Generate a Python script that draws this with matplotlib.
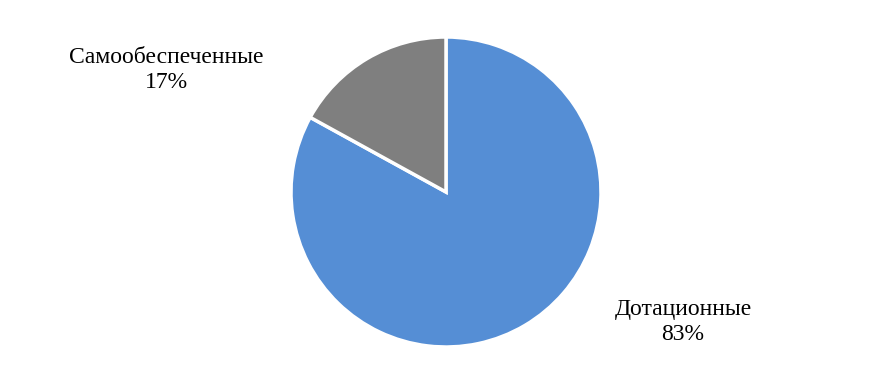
import matplotlib
matplotlib.use("Agg")
import matplotlib.pyplot as plt

categories = ["Дотационные", "Самообеспеченные"]
shares = [83, 17]
colors = ["#558ED5", "#7F7F7F"]

plt.rcParams['font.family'] = ['Liberation Serif', 'DejaVu Serif']

fig = plt.figure(figsize=(8.79, 3.83), dpi=100)
ax = fig.add_axes([0, 0, 1, 1])

ax.pie(shares, colors=colors, startangle=90, counterclock=False,
       center=(446, 191), radius=155, frame=True,
       wedgeprops=dict(edgecolor='white', linewidth=2.5))
ax.set_xlim(0, 879)
ax.set_ylim(0, 383)
ax.set_aspect('equal')
ax.axis('off')

label_pos = {"Дотационные": (683, 61), "Самообеспеченные": (166, 313)}
for cat, val in zip(categories, shares):
    x, y = label_pos[cat]
    ax.text(x, y, f"{cat}\n{val}%", ha='center', va='center', fontsize=17,
            linespacing=1.2, color='black')

fig.savefig("out.png", dpi=100)
